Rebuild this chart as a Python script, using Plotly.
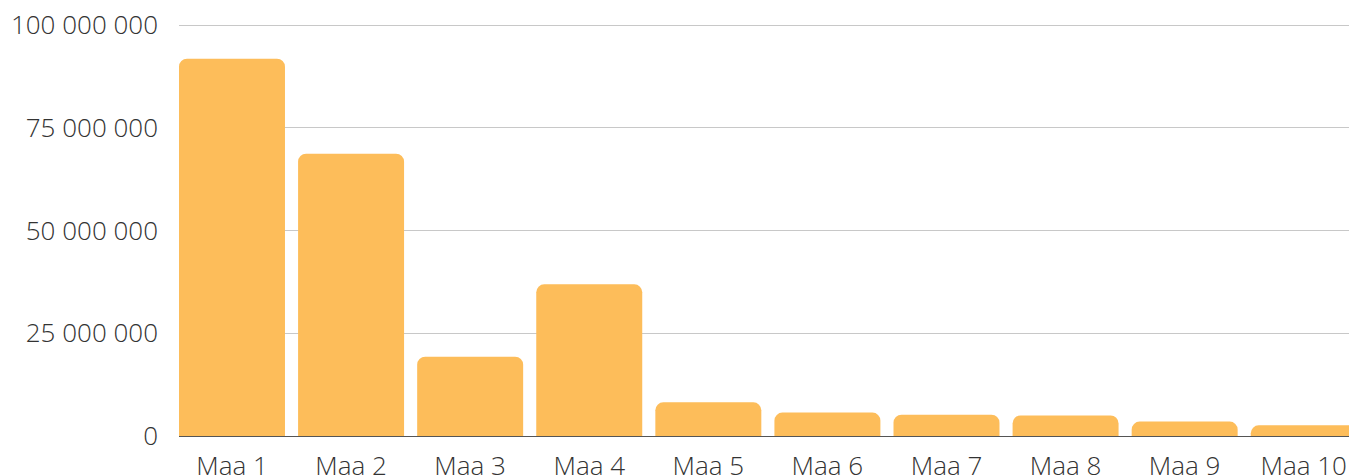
import plotly.graph_objects as go

categories = ["Maa 1", "Maa 2", "Maa 3", "Maa 4", "Maa 5", "Maa 6", "Maa 7", "Maa 8", "Maa 9", "Maa 10"]
values = [91_800_000, 68_700_000, 19_300_000, 36_900_000, 8_200_000, 5_700_000, 5_200_000, 5_000_000, 3_500_000, 2_600_000]
y_ticks = [0, 25_000_000, 50_000_000, 75_000_000, 100_000_000]

fig = go.Figure(go.Bar(x=categories, y=values, marker_color="#FDBD5A", marker_line_width=0))

fig.update_layout(
    width=1349, height=475,
    margin=dict(l=179, r=0, t=22, b=39, autoexpand=False),
    plot_bgcolor="white", paper_bgcolor="white",
    bargap=0.11,
    barcornerradius=8,
    separators=", ",
    font=dict(family="Open Sans", size=26, color="#333333", weight=300),
    showlegend=False,
)
fig.update_xaxes(
    range=[-0.445, 9.38],
    showgrid=False, showline=False, ticks="",
    automargin=False,
    ticklabelstandoff=12,
)
fig.update_yaxes(
    range=[0, 100_730_000],
    tickvals=y_ticks, tickformat=",d",
    showgrid=True, gridcolor="#C8C8C8", gridwidth=1,
    zeroline=True, zerolinecolor="#555555", zerolinewidth=1,
    showline=False, ticks="",
    automargin=False,
    ticklabelstandoff=20,
)

fig.write_html(
    "out.html",
    config={"displayModeBar": False},
    post_script="document.body.style.margin='0';document.body.style.overflow='hidden';",
)
